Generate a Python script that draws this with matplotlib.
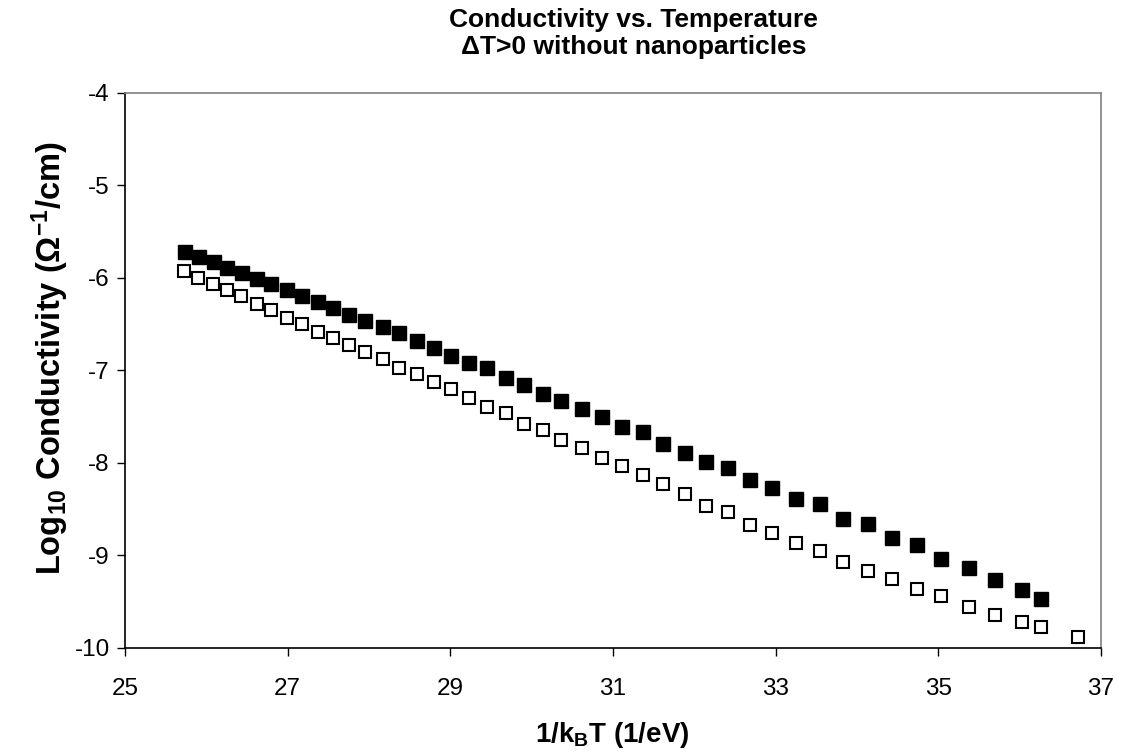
import matplotlib
matplotlib.use('Agg')
import matplotlib.pyplot as plt

plt.rcParams['font.family'] = ['Liberation Sans', 'DejaVu Sans']
plt.rcParams['mathtext.default'] = 'regular'
plt.rcParams['axes.unicode_minus'] = False

# filled squares
x_filled = [25.74, 25.91, 26.09, 26.26, 26.44, 26.62, 26.80, 26.99, 27.18, 27.37,
            27.56, 27.76, 27.95, 28.17, 28.37, 28.59, 28.80, 29.01, 29.23, 29.45,
            29.68, 29.91, 30.14, 30.36, 30.62, 30.87, 31.11, 31.37, 31.62, 31.88,
            32.14, 32.41, 32.68, 32.96, 33.25, 33.54, 33.83, 34.13, 34.43, 34.74,
            35.03, 35.38, 35.70, 36.03, 36.26]
y_filled = [-5.72, -5.77, -5.83, -5.89, -5.95, -6.01, -6.06, -6.13, -6.20, -6.26,
            -6.33, -6.40, -6.47, -6.53, -6.59, -6.68, -6.76, -6.84, -6.92, -6.97,
            -7.08, -7.16, -7.26, -7.33, -7.42, -7.50, -7.61, -7.67, -7.80, -7.89,
            -7.99, -8.06, -8.19, -8.27, -8.39, -8.44, -8.61, -8.66, -8.81, -8.89,
            -9.04, -9.14, -9.27, -9.37, -9.47]

# open squares
x_open = [25.73, 25.90, 26.08, 26.26, 26.43, 26.62, 26.80, 26.99, 27.18, 27.37,
          27.56, 27.76, 27.95, 28.17, 28.37, 28.59, 28.80, 29.01, 29.23, 29.45,
          29.68, 29.91, 30.14, 30.36, 30.62, 30.87, 31.11, 31.37, 31.62, 31.88,
          32.14, 32.41, 32.68, 32.96, 33.25, 33.54, 33.83, 34.13, 34.43, 34.74,
          35.03, 35.38, 35.70, 36.03, 36.26, 36.72]
y_open = [-5.93, -6.00, -6.07, -6.13, -6.20, -6.28, -6.35, -6.43, -6.50, -6.58,
          -6.65, -6.73, -6.80, -6.88, -6.97, -7.04, -7.13, -7.20, -7.30, -7.40,
          -7.46, -7.58, -7.64, -7.75, -7.84, -7.95, -8.03, -8.13, -8.23, -8.34,
          -8.47, -8.53, -8.67, -8.76, -8.87, -8.95, -9.07, -9.17, -9.26, -9.36,
          -9.44, -9.56, -9.64, -9.72, -9.77, -9.88]

xticks = [25, 27, 29, 31, 33, 35, 37]
yticks = [-4, -5, -6, -7, -8, -9, -10]

fig = plt.figure(figsize=(11.23, 7.56), dpi=100)
ax = fig.add_axes([0.1113, 0.143, 0.8691, 0.734])

ax.plot(x_open, y_open, 's', ms=9, mfc='white', mec='black', mew=1.5, ls='none')
ax.plot(x_filled, y_filled, 's', ms=9.5, mfc='black', mec='black', ls='none')

ax.set_xlim(25, 37)
ax.set_ylim(-10, -4)
ax.set_xticks(xticks)
ax.set_yticks(yticks)
ax.tick_params(direction='out', length=6, width=1, colors='black', labelsize=17.5, pad=5)
ax.tick_params(axis='x', pad=16)
for s in ax.spines.values():
    s.set_color('#808080')
    s.set_linewidth(1.2)
ax.spines['bottom'].set_color('black')
ax.spines['left'].set_color('black')

ax.set_xlabel('1/k$_\\mathregular{B}$T (1/eV)', fontsize=20, fontweight='bold')
ax.xaxis.label.set_va('center')
ax.xaxis.set_label_coords(0.499, -0.157)
ax.set_ylabel('Log$_\\mathregular{10}$ Conductivity (\u03a9$^\\mathregular{-1}$/cm)',
              fontsize=23.5, fontweight='bold')
ax.yaxis.label.set_va('center')
ax.yaxis.set_label_coords(-0.077, 0.523)
fig.text(0.5644, 1 - 20 / 756, 'Conductivity vs. Temperature', ha='center', va='center',
         fontsize=19, fontweight='bold')
fig.text(0.5644, 1 - 47 / 756, '\u0394T>0 without nanoparticles', ha='center', va='center',
         fontsize=19, fontweight='bold')

plt.savefig('out.png', dpi=100)
plt.close()
